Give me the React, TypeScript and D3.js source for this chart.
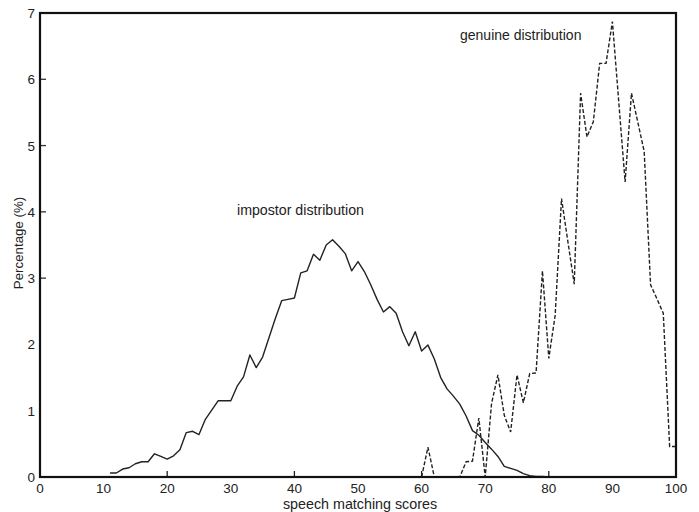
import React, { useEffect, useRef } from "react";
import * as d3 from "d3";

// impostor distribution (solid line), score -> percentage
const impostorScores = d3.range(11, 81);
const impostorValues = [
  0.06, 0.06, 0.12, 0.14, 0.2, 0.23, 0.23, 0.35, 0.31, 0.27,
  0.32, 0.41, 0.67, 0.69, 0.64, 0.87, 1.01, 1.15, 1.15, 1.15,
  1.37, 1.51, 1.84, 1.65, 1.81, 2.1, 2.39, 2.66, 2.68, 2.7,
  3.08, 3.11, 3.36, 3.27, 3.5, 3.58, 3.48, 3.37, 3.11, 3.25,
  3.1, 2.9, 2.68, 2.49, 2.57, 2.47, 2.19, 1.98, 2.19, 1.9,
  1.99, 1.78, 1.5, 1.33, 1.22, 1.1, 0.92, 0.7, 0.63, 0.52,
  0.42, 0.31, 0.16, 0.13, 0.1, 0.05, 0.02, 0.01, 0.01, 0.0,
];

// genuine distribution (dashed line)
const genuineScores = d3.range(60, 101);
const genuineValues = [
  0, 0.45, 0, 0, 0, 0, 0, 0.23, 0.24, 0.89,
  0, 1.11, 1.54, 0.93, 0.68, 1.54, 1.12, 1.56, 1.57, 3.11,
  1.79, 2.44, 4.2, 3.55, 2.91, 5.79, 5.13, 5.36, 6.24, 6.24,
  6.87, 5.66, 4.45, 5.79, 5.35, 4.91, 2.9, 2.69, 2.47, 0.46,
  0.46,
];

const xTickLabels = [0, 10, 20, 30, 40, 50, 60, 70, 80, 90, 100];
const yTickLabels = [0, 1, 2, 3, 4, 5, 6, 7];
const xTickMarks = [20, 40, 60, 80];
const yTickMarks = [3, 4, 5, 6];

const App = () => {
  const ref = useRef<SVGSVGElement>(null);

  useEffect(() => {
    const width = 699;
    const height = 512;
    const left = 40, right = 676, top = 13, bottom = 477;

    const svg = d3.select(ref.current);
    svg.selectAll("*").remove();
    svg.attr("width", width).attr("height", height);

    const x = d3.scaleLinear().domain([0, 100]).range([left, right]);
    const y = d3.scaleLinear().domain([0, 7]).range([bottom, top]);

    const font = "'Liberation Sans', Arial, Helvetica, sans-serif";

    const line = d3.line<[number, number]>()
      .x((d) => x(d[0]))
      .y((d) => y(d[1]));

    // curves
    svg.append("path")
      .datum(impostorScores.map((s, i) => [s, impostorValues[i]] as [number, number]))
      .attr("d", line)
      .attr("fill", "none")
      .attr("stroke", "#222")
      .attr("stroke-width", 1.4)
      .attr("stroke-linejoin", "round");

    svg.append("path")
      .datum(genuineScores.map((s, i) => [s, genuineValues[i]] as [number, number]))
      .attr("d", line)
      .attr("fill", "none")
      .attr("stroke", "#222")
      .attr("stroke-width", 1.4)
      .attr("stroke-dasharray", "4,2");

    // inward tick marks
    svg.selectAll(".xtick")
      .data(xTickMarks)
      .enter()
      .append("line")
      .attr("x1", (d) => x(d))
      .attr("x2", (d) => x(d))
      .attr("y1", bottom)
      .attr("y2", bottom - 6)
      .attr("stroke", "#222")
      .attr("stroke-width", 1.3);

    svg.selectAll(".ytick")
      .data(yTickMarks)
      .enter()
      .append("line")
      .attr("x1", left)
      .attr("x2", left + 6)
      .attr("y1", (d) => y(d))
      .attr("y2", (d) => y(d))
      .attr("stroke", "#333")
      .attr("stroke-width", 1.3);

    // frame
    svg.append("rect")
      .attr("x", left)
      .attr("y", top)
      .attr("width", right - left)
      .attr("height", bottom - top)
      .attr("fill", "none")
      .attr("stroke", "#111")
      .attr("stroke-width", 2.2);

    // tick labels
    svg.selectAll(".xlab")
      .data(xTickLabels)
      .enter()
      .append("text")
      .attr("x", (d) => x(d))
      .attr("y", bottom + 16)
      .attr("text-anchor", "middle")
      .style("font-family", font)
      .style("font-size", "13.5px")
      .style("fill", "#222")
      .text((d) => d);

    svg.selectAll(".ylab")
      .data(yTickLabels)
      .enter()
      .append("text")
      .attr("x", left - 5)
      .attr("y", (d) => y(d) + 5)
      .attr("text-anchor", "end")
      .style("font-family", font)
      .style("font-size", "13.5px")
      .style("fill", "#222")
      .text((d) => d);

    // axis titles
    svg.append("text")
      .attr("x", 360)
      .attr("y", 509)
      .attr("text-anchor", "middle")
      .style("font-family", font)
      .style("font-size", "14.3px")
      .style("fill", "#222")
      .text("speech matching scores");

    svg.append("text")
      .attr("transform", "translate(23,243) rotate(-90)")
      .attr("text-anchor", "middle")
      .style("font-family", font)
      .style("font-size", "13.3px")
      .style("fill", "#222")
      .text("Percentage (%)");

    // annotations
    svg.append("text")
      .attr("x", 237)
      .attr("y", 215)
      .style("font-family", font)
      .style("font-size", "14.2px")
      .style("fill", "#222")
      .text("impostor distribution");

    svg.append("text")
      .attr("x", 460)
      .attr("y", 40)
      .style("font-family", font)
      .style("font-size", "14px")
      .style("fill", "#222")
      .text("genuine distribution");
  }, []);

  return (
    <div style={{ position: "absolute", left: 0, top: 0 }}>
      <svg ref={ref} style={{ display: "block", background: "#fff" }}></svg>
    </div>
  );
};

export default App;
